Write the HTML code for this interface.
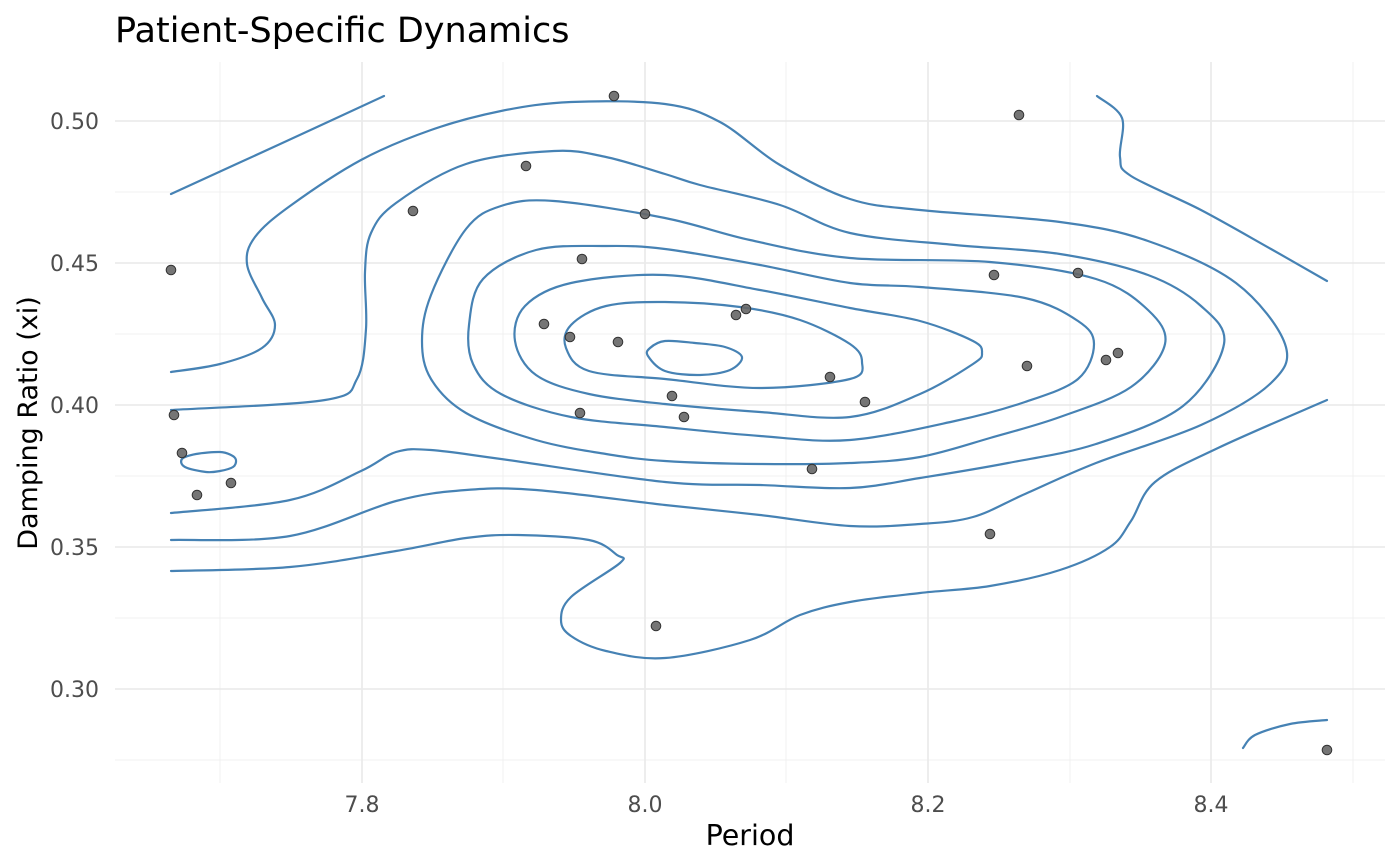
<!DOCTYPE html>
<html><head><meta charset="utf-8"><style>
body{margin:0;background:#fff;}
svg{display:block;font-family:"DejaVu Sans","Liberation Sans",sans-serif;}
</style></head><body>
<svg id="s" width="1400" height="866" viewBox="0 0 1400 866" xmlns="http://www.w3.org/2000/svg">
<rect width="1400" height="866" fill="#fff"/>
<g stroke="#f0f0f0" stroke-width="1">
<line x1="115" x2="1385" y1="192" y2="192"/><line x1="115" x2="1385" y1="334" y2="334"/><line x1="115" x2="1385" y1="476" y2="476"/><line x1="115" x2="1385" y1="618" y2="618"/><line x1="115" x2="1385" y1="760" y2="760"/>
<line y1="62" y2="783" x1="220" x2="220"/><line y1="62" y2="783" x1="503" x2="503"/><line y1="62" y2="783" x1="786" x2="786"/><line y1="62" y2="783" x1="1070" x2="1070"/><line y1="62" y2="783" x1="1353" x2="1353"/>
</g>
<g stroke="#ebebeb" stroke-width="1.8">
<line x1="115" x2="1385" y1="121" y2="121"/><line x1="115" x2="1385" y1="263" y2="263"/><line x1="115" x2="1385" y1="405" y2="405"/><line x1="115" x2="1385" y1="547" y2="547"/><line x1="115" x2="1385" y1="689" y2="689"/>
<line y1="62" y2="783" x1="362" x2="362"/><line y1="62" y2="783" x1="645" x2="645"/><line y1="62" y2="783" x1="928" x2="928"/><line y1="62" y2="783" x1="1211" x2="1211"/>
</g>
<g id="c" fill="none" stroke="#4682b4" stroke-width="2.2" stroke-linejoin="round" stroke-linecap="round"></g>
<g fill="#666" stroke="#333" stroke-width="1" fill-opacity="0.9">
<circle cx="171" cy="270" r="4.8"/><circle cx="174" cy="415" r="4.8"/><circle cx="182" cy="453" r="4.8"/><circle cx="197" cy="495" r="4.8"/><circle cx="231" cy="483" r="4.8"/><circle cx="413" cy="211" r="4.8"/><circle cx="526" cy="166" r="4.8"/><circle cx="614" cy="96" r="4.8"/><circle cx="645" cy="214" r="4.8"/><circle cx="582" cy="259" r="4.8"/><circle cx="544" cy="324" r="4.8"/><circle cx="570" cy="337" r="4.8"/><circle cx="618" cy="342" r="4.8"/><circle cx="580" cy="413" r="4.8"/><circle cx="672" cy="396" r="4.8"/><circle cx="684" cy="417" r="4.8"/><circle cx="736" cy="315" r="4.8"/><circle cx="746" cy="309" r="4.8"/><circle cx="812" cy="469" r="4.8"/><circle cx="830" cy="377" r="4.8"/><circle cx="865" cy="402" r="4.8"/><circle cx="656" cy="626" r="4.8"/><circle cx="1019" cy="115" r="4.8"/><circle cx="994" cy="275" r="4.8"/><circle cx="1078" cy="273" r="4.8"/><circle cx="1027" cy="366" r="4.8"/><circle cx="1106" cy="360" r="4.8"/><circle cx="1118" cy="353" r="4.8"/><circle cx="990" cy="534" r="4.8"/><circle cx="1327" cy="750" r="4.8"/>
</g>
<g fill="#4d4d4d" font-size="22" text-anchor="end">
<text x="99" y="129">0.50</text><text x="99" y="271">0.45</text><text x="99" y="413">0.40</text><text x="99" y="555">0.35</text><text x="99" y="697">0.30</text>
</g>
<g fill="#4d4d4d" font-size="22" text-anchor="middle">
<text x="362" y="812">7.8</text><text x="645" y="812">8.0</text><text x="928" y="812">8.2</text><text x="1211" y="812">8.4</text>
</g>
<text x="750" y="845" font-size="28.5" text-anchor="middle" fill="#000">Period</text>
<text transform="translate(37,423) rotate(-90)" font-size="27" text-anchor="middle" fill="#000">Damping Ratio (xi)</text>
<text x="115" y="42" font-size="35" fill="#000">Patient-Specific Dynamics</text>
</svg>
<script>
var L=[
 [[171,194],[278,145],[384,96]],
 [[1097,96],[1122,118],[1120,157],[1131,176],[1201,210],[1271,249],[1327,281]],
 [[1327,400],[1218,448],[1155,482],[1131,521],[1110,547],[1060,570],[990,586],[920,593],[850,602],[800,615],[750,640],[665,658],[606,651],[571,636],[561,620],[571,597],[620,563],[617,555],[589,540],[518,535],[466,538],[396,551],[290,567],[171,571]],
 [[1243,748],[1255,735],[1290,724],[1327,720]],
 [[171,372],[220,364],[262,348],[275,325],[262,298],[247,264],[255,237],[290,206],[361,160],[431,130],[501,111],[571,102],[665,104],[720,122],[780,165],[850,199],[920,210],[1060,222],[1148,241],[1236,283],[1285,344],[1271,383],[1201,425],[1096,463],[1025,494],[973,517],[920,524],[850,526],[760,515],[665,505],[536,490],[466,490],[396,501],[290,536],[171,540]],
 [[171,410],[325,400],[357,379],[366,329],[365,272],[371,233],[396,203],[466,164],[554,151],[606,157],[665,174],[700,185],[780,205],[850,233],[955,245],[1060,254],[1148,275],[1201,306],[1224,344],[1183,406],[1096,444],[1008,463],[920,478],[850,488],[760,485],[665,482],[501,459],[431,450],[396,452],[361,471],[290,500],[171,513]]
];
var C=[
 [[665,218],[554,201],[501,206],[466,229],[431,295],[422,341],[431,379],[466,413],[536,440],[606,454],[665,461],[760,464],[850,463],[920,457],[990,438],[1060,417],[1131,387],[1165,344],[1148,310],[1096,279],[990,262],[850,258],[750,240]],
 [[665,249],[606,246],[536,250],[483,279],[469,325],[473,364],[501,394],[571,417],[665,427],[760,436],[850,440],[955,421],[1025,402],[1078,379],[1094,344],[1078,321],[1025,298],[920,287],[850,283],[760,265]],
 [[665,275],[571,283],[525,306],[515,341],[536,375],[589,394],[665,404],[760,412],[850,417],[920,394],[973,364],[982,353],[973,341],[920,321],[850,308],[760,290]],
 [[665,302],[606,306],[571,325],[566,348],[589,371],[665,379],[760,388],[850,379],[862,362],[850,344],[800,320],[740,307]],
 [[665,341],[650,348],[648,356],[665,371],[700,375],[730,370],[742,357],[725,347],[695,343]],
 [[182,459],[196,454],[220,452],[231,455],[236,460],[233,467],[220,471],[206,472],[185,467]]
];
function path(p,closed){
 var n=p.length,d="M"+p[0][0]+","+p[0][1];
 function g(i){ if(closed) return p[(i+n)%n]; return p[Math.max(0,Math.min(n-1,i))]; }
 var m=closed?n:n-1;
 for(var i=0;i<m;i++){
  var p0=g(i-1),p1=g(i),p2=g(i+1),p3=g(i+2);
  var c1=[p1[0]+(p2[0]-p0[0])/6,p1[1]+(p2[1]-p0[1])/6];
  var c2=[p2[0]-(p3[0]-p1[0])/6,p2[1]-(p3[1]-p1[1])/6];
  d+="C"+c1[0].toFixed(1)+","+c1[1].toFixed(1)+" "+c2[0].toFixed(1)+","+c2[1].toFixed(1)+" "+p2[0]+","+p2[1];
 }
 return d+(closed?"Z":"");
}
var g=document.getElementById("c"),h="";
L.forEach(function(p){h+='<path d="'+path(p,false)+'"/>';});
C.forEach(function(p){h+='<path d="'+path(p,true)+'"/>';});
g.innerHTML=h;
</script>
</body></html>
